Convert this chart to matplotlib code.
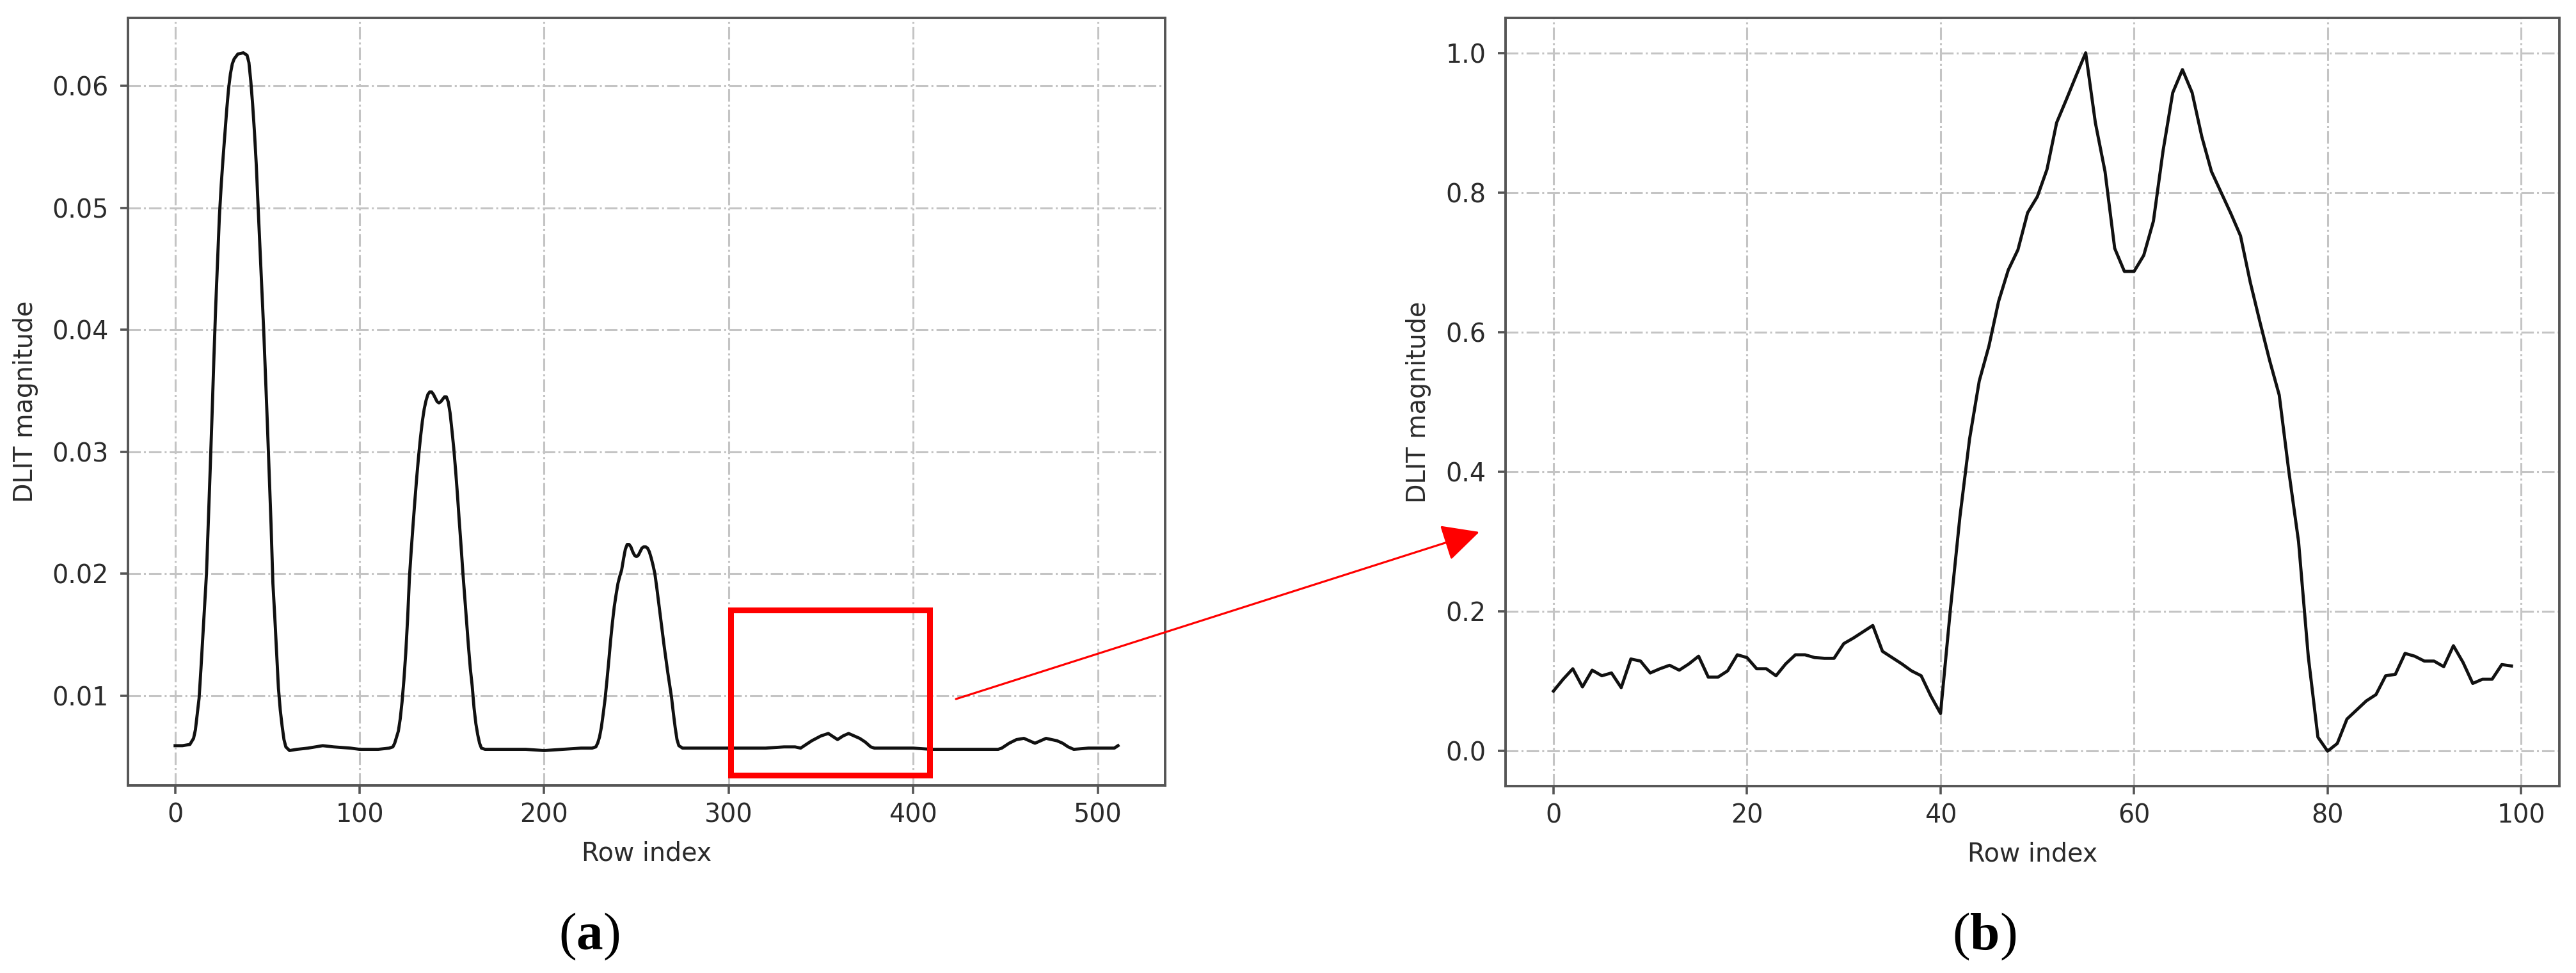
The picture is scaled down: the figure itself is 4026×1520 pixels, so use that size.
import matplotlib
matplotlib.use("Agg")
import matplotlib.pyplot as plt
from matplotlib.patches import Rectangle, FancyArrowPatch

# (a) full row profile at the break points
rows_a = [0, 4, 8, 10, 11, 12, 13, 14, 15, 16, 17, 18, 19, 20, 21, 22, 23, 24, 25, 26,
          27, 28, 29, 30, 31, 32, 34, 37, 39, 40, 41, 42, 43, 44, 45, 46, 47, 48, 49, 50,
          51, 52, 53, 54, 55, 56, 57, 58, 59, 60, 62, 66, 72, 80, 86, 95, 100, 110, 116, 118,
          119, 120, 121, 122, 123, 124, 125, 126, 127, 128, 129, 130, 131, 132, 133, 134, 135, 136, 137, 138,
          139, 140, 141, 142, 143, 144, 145, 146, 147, 148, 149, 150, 151, 152, 153, 154, 155, 156, 157, 158,
          159, 160, 161, 162, 163, 164, 165, 166, 168, 175, 190, 200, 210, 220, 226, 228, 229, 230, 231, 232,
          233, 234, 235, 236, 237, 238, 239, 240, 241, 242, 243, 244, 245, 246, 247, 248, 249, 250, 251, 252,
          253, 254, 255, 256, 257, 258, 259, 260, 261, 262, 263, 264, 265, 266, 267, 268, 269, 270, 271, 272,
          273, 275, 280, 290, 300, 310, 320, 330, 336, 339, 345, 350, 354, 357, 359, 362, 365, 368, 371, 374,
          377, 379, 390, 400, 410, 420, 430, 440, 446, 448, 452, 456, 460, 463, 466, 469, 472, 475, 478, 481,
          484, 487, 495, 505, 509, 511]
dlit_a = [0.0059, 0.0059, 0.0060, 0.0065, 0.0072, 0.0085, 0.0098, 0.0122, 0.0148, 0.0175, 0.0200, 0.0242, 0.0285, 0.0329, 0.0376, 0.0419, 0.0456, 0.0493, 0.0519, 0.0541,
          0.0561, 0.0581, 0.0598, 0.0610, 0.0618, 0.0622, 0.0626, 0.0627, 0.0625, 0.0619, 0.0604, 0.0585, 0.0562, 0.0535, 0.0500, 0.0467, 0.0433, 0.0400, 0.0362, 0.0323,
          0.0282, 0.0240, 0.0192, 0.0165, 0.0135, 0.0106, 0.0088, 0.0075, 0.0064, 0.0058, 0.0055, 0.0056, 0.0057, 0.0059, 0.0058, 0.0057, 0.0056, 0.0056, 0.0057, 0.0058,
          0.0061, 0.0066, 0.0071, 0.0081, 0.0095, 0.0113, 0.0135, 0.0163, 0.0197, 0.0220, 0.0241, 0.0261, 0.0280, 0.0297, 0.0312, 0.0325, 0.0335, 0.0342, 0.0347, 0.0349,
          0.0349, 0.0347, 0.0344, 0.0341, 0.0340, 0.0341, 0.0343, 0.0345, 0.0345, 0.0341, 0.0332, 0.0318, 0.0303, 0.0285, 0.0265, 0.0243, 0.0222, 0.0200, 0.0180, 0.0160,
          0.0140, 0.0122, 0.0108, 0.0090, 0.0077, 0.0068, 0.0061, 0.0057, 0.0056, 0.0056, 0.0056, 0.0055, 0.0056, 0.0057, 0.0057, 0.0058, 0.0061, 0.0066, 0.0074, 0.0085,
          0.0097, 0.0112, 0.0128, 0.0145, 0.0160, 0.0173, 0.0183, 0.0192, 0.0198, 0.0203, 0.0212, 0.0220, 0.0224, 0.0224, 0.0222, 0.0218, 0.0215, 0.0214, 0.0215, 0.0218,
          0.0221, 0.0222, 0.0222, 0.0221, 0.0218, 0.0213, 0.0207, 0.0200, 0.0189, 0.0177, 0.0165, 0.0153, 0.0141, 0.0130, 0.0119, 0.0109, 0.0099, 0.0086, 0.0074, 0.0064,
          0.0059, 0.0057, 0.0057, 0.0057, 0.0057, 0.0057, 0.0057, 0.0058, 0.0058, 0.0057, 0.0063, 0.0067, 0.0069, 0.0066, 0.0064, 0.0067, 0.0069, 0.0067, 0.0065, 0.0062,
          0.0058, 0.0057, 0.0057, 0.0057, 0.0056, 0.0056, 0.0056, 0.0056, 0.0056, 0.0057, 0.0061, 0.0064, 0.0065, 0.0063, 0.0061, 0.0063, 0.0065, 0.0064, 0.0063, 0.0061,
          0.0058, 0.0056, 0.0057, 0.0057, 0.0057, 0.0059]

# (b) zoomed, normalised profile (100 rows)
rows_b = list(range(100))
dlit_b = [0.086, 0.103, 0.118, 0.092, 0.116, 0.108, 0.112, 0.091, 0.132, 0.129,
          0.112, 0.118, 0.123, 0.116, 0.125, 0.136, 0.106, 0.106, 0.115, 0.138,
          0.134, 0.118, 0.118, 0.108, 0.125, 0.138, 0.138, 0.134, 0.133, 0.133,
          0.154, 0.162, 0.171, 0.180, 0.143, 0.134, 0.125, 0.115, 0.108, 0.079,
          0.054, 0.200, 0.335, 0.447, 0.530, 0.580, 0.644, 0.689, 0.718, 0.771,
          0.794, 0.833, 0.900, 0.933, 0.967, 1.000, 0.900, 0.830, 0.720, 0.687,
          0.687, 0.710, 0.759, 0.860, 0.943, 0.976, 0.943, 0.880, 0.830, 0.800,
          0.770, 0.738, 0.672, 0.615, 0.560, 0.510, 0.400, 0.300, 0.136, 0.020,
          0.000, 0.011, 0.046, 0.059, 0.072, 0.081, 0.108, 0.110, 0.140, 0.136,
          0.129, 0.129, 0.121, 0.151, 0.127, 0.097, 0.103, 0.103, 0.124, 0.122]

xticks_a = [0, 100, 200, 300, 400, 500]
yticks_a = [0.01, 0.02, 0.03, 0.04, 0.05, 0.06]
xticks_b = [0, 20, 40, 60, 80, 100]
yticks_b = [0.0, 0.2, 0.4, 0.6, 0.8, 1.0]

W, H = 4026, 1520
fig = plt.figure(figsize=(W / 100, H / 100), dpi=100)
fig.patch.set_facecolor("white")

plt.rcParams["mathtext.fontset"] = "custom"
plt.rcParams["mathtext.rm"] = "Liberation Serif"
plt.rcParams["mathtext.bf"] = "Liberation Serif:bold"

ax_a = fig.add_axes([200 / W, 1 - 1227 / H, 1621 / W, 1199 / H])
ax_b = fig.add_axes([2353 / W, 1 - 1228 / H, 1647 / W, 1200 / H])

text_col = "#2b2b2b"
spine_col = "#555555"


def style_axes(ax, xticks, yticks, yfmt, ylab_x, ax_w):
    ax.set_xticks(xticks)
    ax.set_yticks(yticks)
    ax.set_yticklabels([yfmt.format(v) for v in yticks])
    ax.tick_params(axis="both", labelsize=28.5, labelcolor=text_col, color=spine_col,
                   length=9, width=2.6)
    ax.tick_params(axis="x", pad=10)
    ax.tick_params(axis="y", pad=13)
    for s in ax.spines.values():
        s.set_color(spine_col)
        s.set_linewidth(2.8)
    ax.grid(True, color="#c4c4c4", linestyle="-.", linewidth=2.2)
    ax.set_axisbelow(True)
    ax.set_xlabel("Row index", fontsize=28.5, color=text_col)
    ax.set_ylabel("DLIT magnitude", fontsize=28.5, color=text_col)
    ax.xaxis.set_label_coords(0.5, -0.072)
    ax.yaxis.set_label_coords(ylab_x, 0.5)


ax_a.plot(rows_a, dlit_a, color="#111111", linewidth=3.5)
style_axes(ax_a, xticks_a, yticks_a, "{:.2f}", -0.0864, 1621)

ax_b.plot(rows_b, dlit_b, color="#111111", linewidth=3.5)
style_axes(ax_b, xticks_b, yticks_b, "{:.1f}", -0.0704, 1647)

# red zoom box on (a)
box = Rectangle((301, 0.0035), 108, 0.0135, fill=False, edgecolor="red", linewidth=6.5, zorder=5)
ax_a.add_patch(box)

# red arrow from (a) to (b), figure pixel coords
arrow = FancyArrowPatch((1494 / W, 1 - 1092 / H), (2312 / W, 1 - 831 / H),
                        transform=fig.transFigure, color="red", linewidth=2.3,
                        arrowstyle="-|>,head_length=36,head_width=18", mutation_scale=1,
                        shrinkA=0, shrinkB=0)
fig.patches.append(arrow)

fig.text(921 / W, 1 - 1483 / H, r"($\mathbf{a}$)", fontsize=60, family="Liberation Serif",
         ha="center", va="baseline")
fig.text(3101 / W, 1 - 1483 / H, r"($\mathbf{b}$)", fontsize=60, family="Liberation Serif",
         ha="center", va="baseline")

fig.savefig("out.png", dpi=100, facecolor="white")
